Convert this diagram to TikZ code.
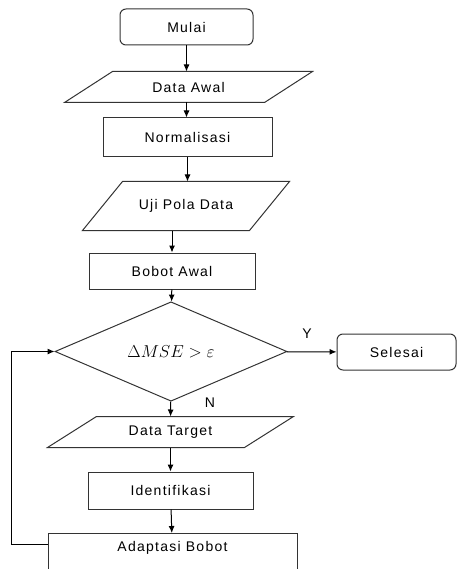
\documentclass[tikz,border=0pt]{standalone}
\usepackage[no-math]{fontspec}
\setmainfont{Liberation Sans}[LetterSpace=9]
\usetikzlibrary{arrows.meta, shapes.geometric}

\tikzset{
    box/.style={draw=black!80, line width=1pt, inner sep=0pt, font=\fontsize{14}{16}\selectfont},
    terminal/.style={box, rectangle, rounded corners=6pt},
    process/.style={box, rectangle},
    io/.style={box, rectangle, draw=none},
    decision/.style={box, diamond, font=\fontsize{17}{19}\selectfont},
    outline/.style={draw=black!80, line width=1pt},
    flow/.style={draw=black, line width=1pt, -{Latex[length=7pt, width=6pt]}},
    tag/.style={inner sep=0pt, font=\fontsize{14}{16}\selectfont}
}

\begin{document}
\begin{tikzpicture}[x=1pt, y=-1pt]
    \useasboundingbox (0,0) rectangle (459,569);

    % Draw the main column
    \node[terminal, minimum width=133, minimum height=36] (mulai) at (186.5,27) {Mulai};
    \node[io, minimum width=247, minimum height=30] (awal) at (188.5,87) {Data Awal};
    \node[process, minimum width=169, minimum height=39] (norm) at (187.5,137.5) {Normalisasi};
    \node[io, minimum width=206, minimum height=48] (uji) at (186,206) {Uji Pola Data};
    \node[process, minimum width=166, minimum height=36] (bobot) at (172,271) {Bobot Awal};
    \node[decision, minimum width=232, minimum height=85] (mse) at (171,351.5) {$\Delta MSE>\varepsilon$};
    \node[terminal, minimum width=119, minimum height=36] (selesai) at (396.5,352) {Selesai};
    \node[io, minimum width=245, minimum height=30] (target) at (170.5,432) {Data Target};
    \node[process, minimum width=165, minimum height=37] (ident) at (170.5,490.5) {Identifikasi};
    \node[process, minimum width=249, minimum height=44, text depth=18pt, anchor=north] (adapt) at (172.5,533) {Adaptasi Bobot};

    % Data boxes are slanted
    \foreach \n/\s in {awal/48, uji/40, target/49}
        \draw[outline] ([xshift=\s pt]\n.north west) -- (\n.north east)
            -- ([xshift=-\s pt]\n.south east) -- (\n.south west) -- cycle;

    % Branch labels
    \node[tag] (ylab) at (307,334) {Y};
    \node[tag] (nlab) at (210,403) {N};

    % Draw the arrows
    \draw[flow] (mulai) -- (mulai |- awal.north);
    \draw[flow] (mulai |- awal.south) -- (mulai |- norm.north);
    \draw[flow] (norm) -- (norm |- uji.north);
    \draw[flow] (bobot |- uji.south) -- (bobot);
    \draw[flow] (bobot) -- (mse);
    \draw[flow] (mse) -- (selesai);
    \draw[flow] (mse) -- (target);
    \draw[flow] (target) -- (ident);
    \draw[flow] (ident) -- (adapt);

    % Loop back from adaptasi to the decision
    \coordinate (back) at ([yshift=-11pt]adapt.north west);
    \draw[flow] (back) -- ++(-36,0) |- (mse.west);

\end{tikzpicture}
\end{document}
